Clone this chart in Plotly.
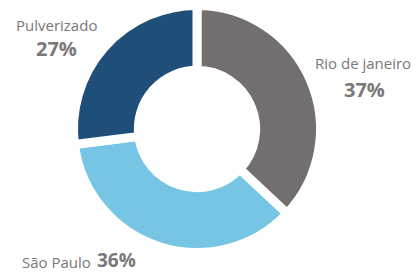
import plotly.graph_objects as go

labels = ["Rio de janeiro", "São Paulo", "Pulverizado"]
values = [37, 36, 27]
colors = ["#736f6e", "#76c5e5", "#1f4e78"]
pct_text = ["37%", "36%", "27%"]

W, H = 417, 274
cx, cy, R = 197, 129, 123.5

fig = go.Figure(go.Pie(
    labels=labels, values=values, sort=False, direction="clockwise", rotation=0,
    hole=0.475, textinfo="none", hoverinfo="label+percent",
    marker=dict(colors=colors, line=dict(color="white", width=9)),
    domain=dict(x=[(cx - R) / W, (cx + R) / W], y=[(H - cy - R) / H, (H - cy + R) / H]),
    showlegend=False,
))

name_font = dict(family="Open Sans, Arial, sans-serif", size=15, color="#7a7878")
pct_font = dict(family="Open Sans, Arial, sans-serif", size=20, color="#7a7878")
sp_pct_font = dict(family="Open Sans, Arial, sans-serif", size=19, color="#7a7878")

def px(x):
    return x / W

def py(y):
    return 1 - y / H

ann = []
# Pulverizado
ann.append(dict(x=px(56), y=py(25), text=labels[2], font=name_font, showarrow=False, xanchor="center", yanchor="middle"))
ann.append(dict(x=px(56), y=py(49), text="<b>" + pct_text[2] + "</b>", font=pct_font, showarrow=False, xanchor="center", yanchor="middle"))
# Rio de janeiro
ann.append(dict(x=px(363), y=py(63), text=labels[0], font=name_font, showarrow=False, xanchor="center", yanchor="middle"))
ann.append(dict(x=px(364), y=py(89), text="<b>" + pct_text[0] + "</b>", font=pct_font, showarrow=False, xanchor="center", yanchor="middle"))
# São Paulo
ann.append(dict(x=px(92), y=py(262), text=labels[1], font=name_font, showarrow=False, xanchor="right", yanchor="middle", borderpad=0))
ann.append(dict(x=px(96), y=py(260), text="<b>" + pct_text[1] + "</b>", font=sp_pct_font, showarrow=False, xanchor="left", yanchor="middle", borderpad=0))

fig.update_layout(
    width=W, height=H, margin=dict(l=0, r=0, t=0, b=0),
    paper_bgcolor="white", plot_bgcolor="white", annotations=ann,
)
fig.write_html("out.html", config={"displayModeBar": False},
               post_script="document.body.style.margin='0';document.body.style.overflow='hidden';")
